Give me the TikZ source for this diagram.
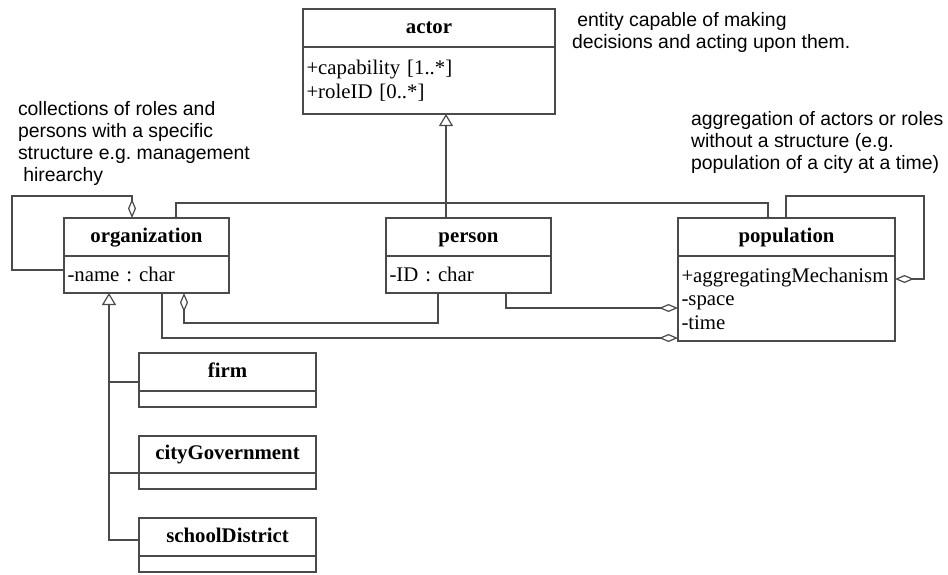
\documentclass[tikz,border=0pt]{standalone}
\usepackage{fontspec}
\setmainfont{Liberation Serif}
\newfontfamily\notefont{Liberation Sans}
\usetikzlibrary{arrows.meta}
\definecolor{umlline}{HTML}{4A4A4A}
\frenchspacing
\begin{document}
\begin{tikzpicture}[x=1pt,y=-1pt,
  every node/.style={inner sep=0pt, outer sep=0pt},
  classhead/.style={draw=umlline, line width=1.2pt, anchor=north west, align=center,
    text height=14.5pt, text depth=4.5pt,
    font=\fontsize{20.8}{23.5}\selectfont\bfseries},
  classbody/.style={draw=umlline, line width=1.2pt, anchor=north west, align=left,
    inner xsep=3.5pt, font=\fontsize{20.8}{23.5}\selectfont},
  note/.style={anchor=north west, align=left, font=\notefont\fontsize{19.4}{22.3}\selectfont},
  conn/.style={draw=umlline, line width=1.2pt, line join=miter},
  agg/.style={conn, -{Diamond[open, length=19pt, width=8pt]}},
  gen/.style={conn, -{Triangle[open, length=12pt, width=14pt]}},
]
\useasboundingbox (0,0) rectangle (948,574);

% classes: a header node and an attribute compartment below it
\node[classhead, minimum width=252, minimum height=38] (actor) at (303,9) {actor};
\node[classbody, minimum width=252, minimum height=67, text width=245] (actorb) at (actor.south west)
  {+capability [1..*]\\+roleID [0..*]};

\node[classhead, minimum width=165, minimum height=38] (org) at (64,218) {organization};
\node[classbody, minimum width=165, minimum height=37, text width=158] (orgb) at (org.south west)
  {-name : char};

\node[classhead, minimum width=165, minimum height=38] (person) at (386,218) {person};
\node[classbody, minimum width=165, minimum height=37, text width=158] (personb) at (person.south west)
  {-ID : char};

\node[classhead, minimum width=217, minimum height=38] (pop) at (678,218) {population};
\node[classbody, minimum width=217, minimum height=85, text width=210] (popb) at (pop.south west)
  {+aggregatingMechanism\\-space\\-time};

\node[classhead, minimum width=177, minimum height=38] (firm) at (139,353) {firm};
\node[classbody, minimum width=177, minimum height=16, text width=170] (firmb) at (firm.south west) {};

\node[classhead, minimum width=177, minimum height=37] (city) at (139,436) {cityGovernment};
\node[classbody, minimum width=177, minimum height=16, text width=170] (cityb) at (city.south west) {};

\node[classhead, minimum width=177, minimum height=38] (sd) at (139,518) {schoolDistrict};
\node[classbody, minimum width=177, minimum height=16, text width=170] (sdb) at (sd.south west) {};

% notes
\node[note] (noteactor) at (572,12)
  {\hspace*{0.278em}entity capable of making\\decisions and acting upon them.};
\node[note] (noteorg) at (18,101)
  {collections of roles and\\persons with a specific\\structure e.g. management\\\hspace*{0.278em}hirearchy};
\node[note] (notepop) at (691,111)
  {aggregation of actors or roles\\without a structure (e.g.\\population of a city at a time)};

% generalisation to actor
\coordinate (hub) at (446,203);
\draw[gen] ([xshift=60pt]person.north west) -- ([xshift=143pt]actorb.south west);
\draw[conn] ([xshift=112pt]org.north west) |- (hub);
\draw[conn] ([xshift=90pt]pop.north west) |- (hub);

% aggregations
\draw[agg] ([yshift=-14pt]orgb.north west) -- ++(-52,0) -- ++(0,-74) -| ([xshift=68pt]org.north west);
\draw[agg] ([xshift=108pt]pop.north west) -- ++(0,-22) -- ++(138,0) |- ([yshift=-23pt]popb.north east);
\draw[agg] ([xshift=120pt]personb.south west) |- ([yshift=-52pt]popb.north west);
\draw[agg] ([xshift=52pt]personb.south west) -- ++(0,30) -| ([xshift=120pt]orgb.south west);
\draw[agg] ([xshift=98pt]orgb.south west) |- ([yshift=-82pt]popb.north west);

% generalisation to organization
\draw[gen] ([yshift=-22pt]sd.north west) -| ([xshift=45pt]orgb.south west);
\draw[conn] ([yshift=-29pt]firm.north west) -- ++(-30,0);
\draw[conn] (cityb.north west) -- ++(-30,0);
\end{tikzpicture}
\end{document}
